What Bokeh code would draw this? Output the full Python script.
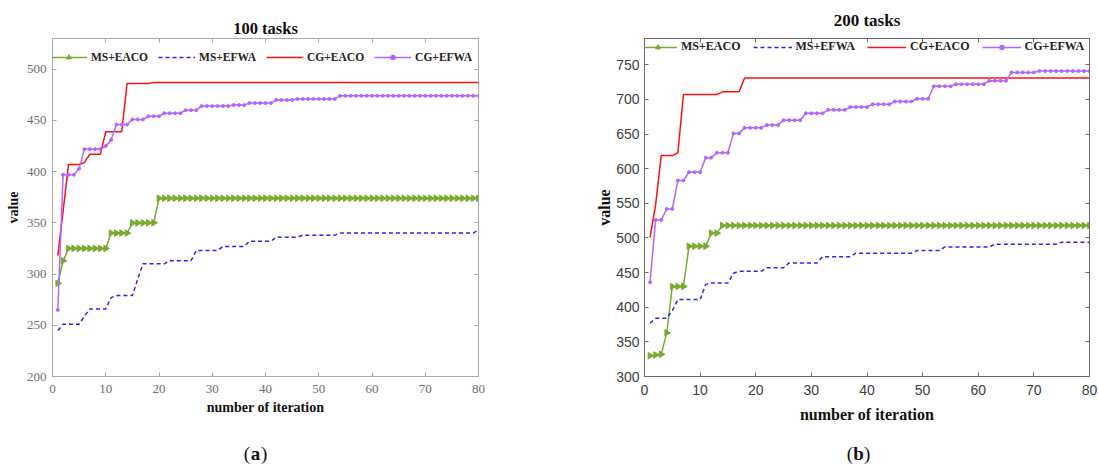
import math
from bokeh.plotting import figure
from bokeh.models import (LinearAxis, FixedTicker, Legend, LegendItem, Label,
                          CustomJSTickFormatter, Range1d)
from bokeh.layouts import row, column
from bokeh.embed import file_html
from bokeh.resources import INLINE

# ---------------- data ----------------
iterations = list(range(1, 81))
x_ticks = [0, 10, 20, 30, 40, 50, 60, 70, 80]
y_ticks_100 = [200, 250, 300, 350, 400, 450, 500]
y_ticks_200 = [300, 350, 400, 450, 500, 550, 600, 650, 700, 750]
series_names = ["MS+EACO", "MS+EFWA", "CG+EACO", "CG+EFWA"]
panel_titles = ["100 tasks", "200 tasks"]
panel_letters = ["a", "b"]

# 100 tasks
ms_eaco_100 = [291, 313, 325, 325, 325, 325, 325, 325, 325, 325,
               340, 340, 340, 340, 350, 350, 350, 350, 350, 374,
               374, 374, 374, 374, 374, 374, 374, 374, 374, 374,
               374, 374, 374, 374, 374, 374, 374, 374, 374, 374,
               374, 374, 374, 374, 374, 374, 374, 374, 374, 374,
               374, 374, 374, 374, 374, 374, 374, 374, 374, 374,
               374, 374, 374, 374, 374, 374, 374, 374, 374, 374,
               374, 374, 374, 374, 374, 374, 374, 374, 374, 374]
ms_efwa_100 = [245, 251, 251, 251, 251, 259, 266, 266, 266, 266,
               277, 279, 279, 279, 279, 295, 310, 310, 310, 310,
               310, 313, 313, 313, 313, 313, 323, 323, 323, 323,
               323, 327, 327, 327, 327, 327, 332, 332, 332, 332,
               332, 336, 336, 336, 336, 336, 338, 338, 338, 338,
               338, 338, 338, 340, 340, 340, 340, 340, 340, 340,
               340, 340, 340, 340, 340, 340, 340, 340, 340, 340,
               340, 340, 340, 340, 340, 340, 340, 340, 340, 343]
cg_eaco_100 = [318, 362, 407, 407, 407, 409, 417, 417, 417, 439,
               439, 439, 439, 486, 486, 486, 486, 486, 487, 487,
               487, 487, 487, 487, 487, 487, 487, 487, 487, 487,
               487, 487, 487, 487, 487, 487, 487, 487, 487, 487,
               487, 487, 487, 487, 487, 487, 487, 487, 487, 487,
               487, 487, 487, 487, 487, 487, 487, 487, 487, 487,
               487, 487, 487, 487, 487, 487, 487, 487, 487, 487,
               487, 487, 487, 487, 487, 487, 487, 487, 487, 487]
cg_efwa_100 = [265, 397, 397, 397, 403, 422, 422, 422, 422, 425,
               431, 446, 446, 446, 451, 451, 451, 454, 454, 454,
               457, 457, 457, 457, 460, 460, 460, 464, 464, 464,
               464, 464, 464, 465, 465, 465, 467, 467, 467, 467,
               467, 470, 470, 470, 470, 471, 471, 471, 471, 471,
               471, 471, 471, 474, 474, 474, 474, 474, 474, 474,
               474, 474, 474, 474, 474, 474, 474, 474, 474, 474,
               474, 474, 474, 474, 474, 474, 474, 474, 474, 474]

# 200 tasks
ms_eaco_200 = [330, 331, 332, 363, 430, 430, 430, 488, 488, 488,
               488, 507, 507, 518, 518, 518, 518, 518, 518, 518,
               518, 518, 518, 518, 518, 518, 518, 518, 518, 518,
               518, 518, 518, 518, 518, 518, 518, 518, 518, 518,
               518, 518, 518, 518, 518, 518, 518, 518, 518, 518,
               518, 518, 518, 518, 518, 518, 518, 518, 518, 518,
               518, 518, 518, 518, 518, 518, 518, 518, 518, 518,
               518, 518, 518, 518, 518, 518, 518, 518, 518, 518]
ms_efwa_200 = [377, 384, 384, 384, 395, 411, 411, 411, 411, 411,
               433, 435, 435, 435, 435, 449, 452, 452, 452, 452,
               452, 457, 457, 457, 457, 464, 464, 464, 464, 464,
               464, 473, 473, 473, 473, 473, 473, 478, 478, 478,
               478, 478, 478, 478, 478, 478, 478, 478, 482, 482,
               482, 482, 482, 487, 487, 487, 487, 487, 487, 487,
               487, 487, 491, 491, 491, 491, 491, 491, 491, 491,
               491, 491, 491, 491, 494, 494, 494, 494, 494, 494]
cg_eaco_200 = [501, 548, 619, 619, 619, 623, 707, 707, 707, 707,
               707, 707, 707, 711, 711, 711, 711, 731, 731, 731,
               731, 731, 731, 731, 731, 731, 731, 731, 731, 731,
               731, 731, 731, 731, 731, 731, 731, 731, 731, 731,
               731, 731, 731, 731, 731, 731, 731, 731, 731, 731,
               731, 731, 731, 731, 731, 731, 731, 731, 731, 731,
               731, 731, 731, 731, 731, 731, 731, 731, 731, 731,
               731, 731, 731, 731, 731, 731, 731, 731, 731, 731]
cg_efwa_200 = [436, 526, 526, 542, 542, 583, 583, 595, 595, 595,
               616, 616, 623, 623, 623, 651, 651, 659, 659, 659,
               659, 663, 663, 663, 670, 670, 670, 670, 680, 680,
               680, 680, 685, 685, 685, 685, 689, 689, 689, 689,
               693, 693, 693, 693, 697, 697, 697, 697, 701, 701,
               701, 719, 719, 719, 719, 722, 722, 722, 722, 722,
               722, 727, 727, 727, 727, 739, 739, 739, 739, 739,
               741, 741, 741, 741, 741, 741, 741, 741, 741, 741]

GREEN = "#77AC30"
BLUE = "#2424FF"
RED = "#FF1010"
PURPLE = "#B266FF"
SERIF = "Liberation Serif"
SANS = "Liberation Sans"
PLOT_H = 436
CAP_H = 30


def empty_axis(ticks, color):
    return LinearAxis(ticker=FixedTicker(ticks=ticks), major_tick_in=4, major_tick_out=0,
                      minor_tick_line_color=None, axis_line_color=color,
                      major_tick_line_color=color, major_label_text_font_size="0px",
                      major_label_standoff=0,
                      formatter=CustomJSTickFormatter(code="return ''"))


def panel(width, borders, yr, yticks, data, cfg):
    L, R, T, B = borders
    p = figure(width=width, height=PLOT_H, x_range=Range1d(0, 80), y_range=Range1d(*yr),
               output_backend="svg", toolbar_location=None,
               min_border_left=L, min_border_right=R, min_border_top=T, min_border_bottom=B)
    p.xgrid.visible = False
    p.ygrid.visible = False
    p.outline_line_color = cfg["box"]
    p.background_fill_color = "white"
    p.border_fill_color = "white"

    p.title.text = cfg["title"]
    p.title.align = "center"
    p.title.text_font = SERIF
    p.title.text_font_style = "bold"
    p.title.text_font_size = cfg["title_size"]
    p.title.text_color = "#111111"
    p.title.standoff = cfg["title_standoff"]

    xa = p.xaxis[0]
    ya = p.yaxis[0]
    for ax, ticks in ((xa, x_ticks), (ya, yticks)):
        ax.ticker = FixedTicker(ticks=ticks)
        ax.major_tick_in = 4
        ax.major_tick_out = 0
        ax.minor_tick_line_color = None
        ax.axis_line_color = cfg["box"]
        ax.major_tick_line_color = cfg["box"]
        ax.major_label_text_font = cfg["tick_font"]
        ax.major_label_text_font_size = cfg["tick_size"]
        ax.major_label_text_color = cfg["tick_color"]
        ax.axis_label_text_font = SERIF
        ax.axis_label_text_font_style = "bold"
        ax.axis_label_text_font_size = cfg["label_size"]
        ax.axis_label_text_color = "#111111"
    xa.axis_label = "number of iteration"
    ya.axis_label = "value"
    xa.major_label_standoff = cfg["x_standoff"]
    ya.major_label_standoff = cfg["y_standoff"]
    xa.axis_label_standoff = cfg["xl_standoff"]
    ya.axis_label_standoff = cfg["yl_standoff"]
    p.add_layout(empty_axis(x_ticks, cfg["box"]), "above")
    p.add_layout(empty_axis(yticks, cfg["box"]), "right")

    s1, s2, s3, s4 = data
    g_line = p.line(iterations, s1, line_color=GREEN, line_width=1.5)
    g_mark = p.scatter(iterations, s1, marker="triangle", angle=-math.pi / 2, size=6.5,
                       fill_color=GREEN, line_color=GREEN)
    b_line = p.line(iterations, s2, line_color=BLUE, line_width=1.5, line_dash="4 3")
    r_line = p.line(iterations, s3, line_color=RED, line_width=1.5)
    v_line = p.line(iterations, s4, line_color=PURPLE, line_width=1.5)
    v_mark = p.scatter(iterations, s4, marker="circle", size=3,
                       fill_color=PURPLE, line_color=PURPLE)

    legend = Legend(items=[LegendItem(label=series_names[0], renderers=[g_line, g_mark], index=0),
                           LegendItem(label=series_names[1], renderers=[b_line]),
                           LegendItem(label=series_names[2], renderers=[r_line]),
                           LegendItem(label=series_names[3], renderers=[v_line, v_mark], index=0)],
                    orientation="horizontal", location=cfg["legend_loc"],
                    border_line_color=None, background_fill_alpha=0, padding=0, margin=0,
                    spacing=cfg["legend_spacing"], glyph_width=cfg["glyph_w"], glyph_height=12,
                    label_height=12, label_standoff=4, label_text_font=SERIF,
                    label_text_font_style="bold", label_text_font_size=cfg["legend_size"],
                    label_text_color="#222222")
    p.add_layout(legend)
    return p


cfg_a = dict(box="#a8a8a8", tick_font=SERIF, tick_size="13px", tick_color="#6e6e6e",
             label_size="14px", x_standoff=8, y_standoff=6, xl_standoff=4, yl_standoff=3,
             legend_loc=(-2, 313), legend_spacing=10, glyph_w=37, legend_size="11.5px",
             title=panel_titles[0], title_size="16.5px", title_standoff=2)
cfg_b = dict(box="#6a6a6a", tick_font=SANS, tick_size="14px", tick_color="#404040",
             label_size="16px", x_standoff=8, y_standoff=5, xl_standoff=8, yl_standoff=0,
             legend_loc=(-6, 322), legend_spacing=12, glyph_w=39, legend_size="12px",
             title=panel_titles[1], title_size="17px", title_standoff=17)

pa = panel(568, (52, 90, 38, 60), (200, 530), y_ticks_100,
           (ms_eaco_100, ms_efwa_100, cg_eaco_100, cg_efwa_100), cfg_a)
pb = panel(530, (76, 9, 30, 55), (300, 788), y_ticks_200,
           (ms_eaco_200, ms_efwa_200, cg_eaco_200, cg_efwa_200), cfg_b)

# caption strip below the two panels: (a) and (b)
cap = figure(width=1098, height=CAP_H, x_range=Range1d(0, 1098), y_range=Range1d(0, CAP_H),
             output_backend="svg", toolbar_location=None, x_axis_location=None,
             y_axis_location=None, min_border=0)
cap.outline_line_color = None
cap.xgrid.visible = False
cap.ygrid.visible = False
for letter, cx in zip(panel_letters, (255, 858)):
    half = 5.4
    for txt, dx, align, style in (("(", -half, "right", "normal"), (letter, 0, "center", "bold"),
                                  (")", half, "left", "normal")):
        cap.add_layout(Label(x=cx + dx, y=13, text=txt, text_align=align,
                             text_baseline="middle", text_font=SERIF, text_font_style=style,
                             text_font_size="19px", text_color="#111111"))

layout = column(row(pa, pb), cap)
open("out.html", "w").write(file_html(layout, INLINE))
